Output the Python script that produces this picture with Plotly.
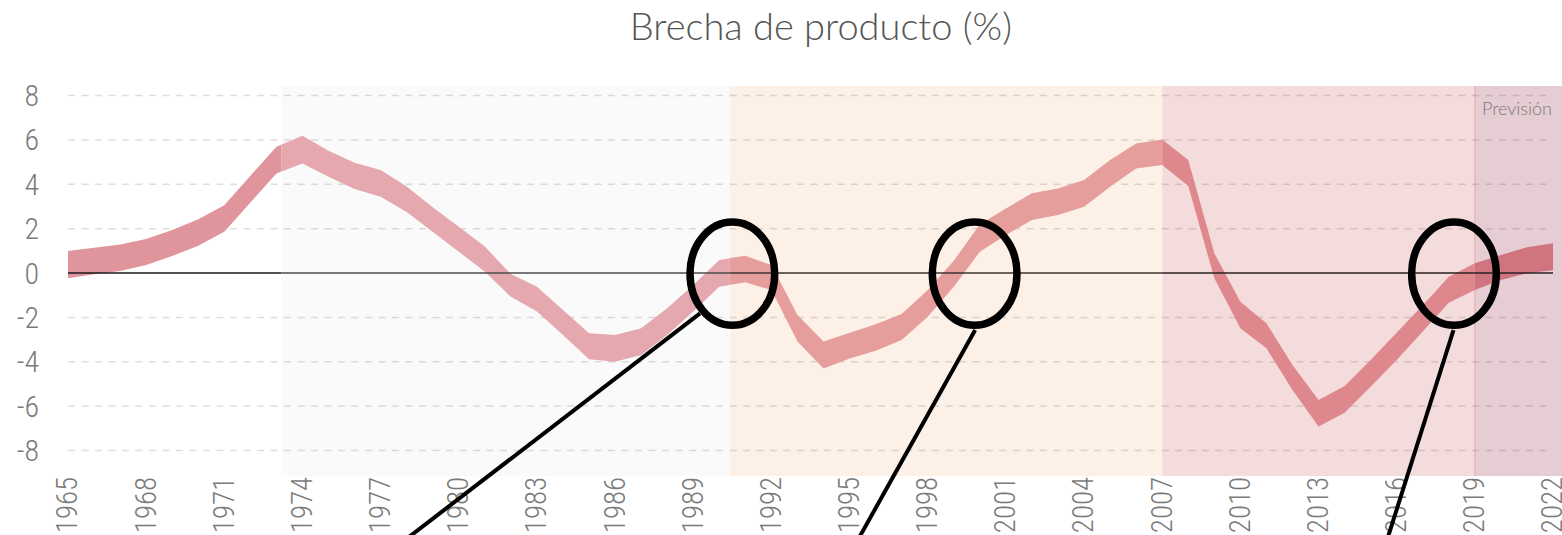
import plotly.graph_objects as go

# ---------------- data ----------------
years = list(range(1965, 2023))
upper = [0.99, 1.14, 1.29, 1.53, 1.94, 2.42, 3.06, 4.38, 5.69, 6.19,
         5.51, 4.97, 4.64, 3.90, 2.96, 2.09, 1.19, -0.05, -0.62, -1.67,
         -2.72, -2.79, -2.49, -1.59, -0.54, 0.59, 0.78, 0.36, -1.89, -3.09,
         -2.69, -2.31, -1.85, -0.77, 0.55, 2.20, 2.91, 3.59, 3.81, 4.19,
         5.09, 5.84, 6.02, 5.09, 0.89, -1.29, -2.27, -4.15, -5.72, -5.09,
         -3.92, -2.69, -1.45, -0.17, 0.44, 0.81, 1.16, 1.34]
lower = [-0.24, -0.06, 0.09, 0.36, 0.77, 1.23, 1.86, 3.19, 4.49, 4.94,
         4.34, 3.79, 3.44, 2.75, 1.86, 0.96, 0.06, -1.07, -1.74, -2.79,
         -3.89, -4.00, -3.70, -2.79, -1.74, -0.62, -0.42, -0.77, -3.09, -4.30,
         -3.85, -3.50, -3.02, -1.97, -0.62, 0.96, 1.71, 2.39, 2.61, 2.99,
         3.89, 4.71, 4.87, 3.92, -0.24, -2.49, -3.39, -5.27, -6.92, -6.30,
         -5.13, -3.92, -2.64, -1.34, -0.77, -0.32, -0.01, 0.12]

title_text = "Brecha de producto (%)"
forecast_label = "Previsión"
y_ticks = [-8, -6, -4, -2, 0, 2, 4, 6, 8]
y_tick_text = ["-8", "-6", "-4", "-2", "0", "2", "4", "6", "8"]
x_ticks = list(range(1965, 2023, 3))

period_bounds = [1965, 1973.2, 1990.4, 2007, 2019, 2022]
band_colors = ["#e0959d", "#e5a8ae", "#e59e9c", "#de878c", "#d07480"]
bg_colors = [None, "#fafafa", "#fdf0e7", "#f4dcdc", "#e5cdd3"]
zero_colors = ["#1a1a1a", "#4d4d4d", "#3d3530", "#2a2020", "#2a2024"]

circle_years = [1990.5, 1999.8, 2018.2]
leader_start = [(1989.26, -1.82), (1999.82, -2.57), (2018.18, -2.57)]
leader_end_years = [1977.2, 1995.0, 2015.45]
leader_end_value = -12.7

# ---------------- layout constants ----------------
X0, X1 = 1965, 2022
Y0, Y1 = -9.15, 8.43
W, H = 1562, 535
ML, MR, MT, MB = 68, 9, 86, 59


def px(yr):
    return (yr - X0) / (X1 - X0)


def py(v):
    return (v - Y0) / (Y1 - Y0)


font_cond = "Roboto Condensed, Liberation Sans Narrow, Arial Narrow, sans-serif"
x_tick_font = dict(family=font_cond, size=29, color="#7a7a7a", weight=300)
y_tick_font = dict(family=font_cond, size=30, color="#7a7a7a", weight=300)

fig = go.Figure()

# invisible trace on main axes so they render
fig.add_trace(go.Scatter(x=years, y=upper, mode="lines", line=dict(width=0),
                         opacity=0, hoverinfo="skip", showlegend=False))

layout_axes = {}
poly_x = years + years[::-1]
poly_y = upper + lower[::-1]
n = len(period_bounds) - 1
for k in range(n):
    a, b = period_bounds[k], period_bounds[k + 1]
    idx = k + 2
    fig.add_trace(go.Scatter(x=poly_x, y=poly_y, fill="toself", fillcolor=band_colors[k],
                             mode="lines", line=dict(width=0), hoverinfo="skip",
                             showlegend=False, xaxis=f"x{idx}", yaxis=f"y{idx}"))
    layout_axes[f"xaxis{idx}"] = dict(domain=[px(a), px(b)], range=[a, b], visible=False,
                                      anchor=f"y{idx}", fixedrange=True, automargin=False)
    layout_axes[f"yaxis{idx}"] = dict(domain=[0, 1], range=[Y0, Y1], visible=False,
                                      anchor=f"x{idx}", fixedrange=True, automargin=False)

shapes = []
# backgrounds
for k in range(n):
    if bg_colors[k] is None:
        continue
    a, b = period_bounds[k], period_bounds[k + 1]
    x1 = px(b) if k < n - 1 else 1.02
    shapes.append(dict(type="rect", xref="paper", yref="paper", x0=px(a), x1=x1, y0=0, y1=1,
                       fillcolor=bg_colors[k], line=dict(width=0), layer="below"))
# forecast boundary
shapes.append(dict(type="line", xref="paper", yref="paper", x0=px(period_bounds[-2]),
                   x1=px(period_bounds[-2]), y0=0, y1=1,
                   line=dict(color="#e6a9b0", width=1), layer="below"))
# gridlines
for v in y_ticks:
    if v == 0:
        continue
    shapes.append(dict(type="line", xref="paper", yref="y", x0=0, x1=1, y0=v, y1=v,
                       line=dict(color="rgba(0,0,0,0.13)", width=1.5, dash="7px,6.5px"),
                       layer="below"))
# zero line per period
for k in range(n):
    a, b = period_bounds[k], period_bounds[k + 1]
    shapes.append(dict(type="line", xref="paper", yref="y", x0=px(a), x1=px(b), y0=0, y1=0,
                       line=dict(color=zero_colors[k], width=1.6), layer="above"))
# ellipses
ew, eh = 3.25, 4.65
for c in circle_years:
    shapes.append(dict(type="circle", xref="x", yref="y", x0=c - ew / 2, x1=c + ew / 2,
                       y0=-eh / 2 - 0.03, y1=eh / 2 - 0.03,
                       line=dict(color="black", width=7.5), layer="above"))
# leader lines
for (sy, sv), ey in zip(leader_start, leader_end_years):
    shapes.append(dict(type="line", xref="paper", yref="paper", x0=px(sy), y0=py(sv),
                       x1=px(ey), y1=py(leader_end_value),
                       line=dict(color="black", width=4), layer="above"))

fig.update_layout(
    width=W, height=H,
    margin=dict(l=ML, r=MR, t=MT, b=MB, pad=0, autoexpand=False),
    paper_bgcolor="white", plot_bgcolor="rgba(0,0,0,0)",
    showlegend=False,
    title=dict(text=title_text, x=0.507, xanchor="center", xref="paper",
               y=1 - 27 / H, yref="container", yanchor="middle",
               font=dict(family="Lato, sans-serif", size=38, color="#555555", weight=300)),
    xaxis=dict(range=[X0, X1], tickvals=x_ticks, tickangle=-90, showgrid=False,
               zeroline=False, showline=False, ticks="", tickfont=x_tick_font,
               ticklabelstandoff=-6, ticklabeloverflow="allow",
               fixedrange=True, automargin=False),
    yaxis=dict(range=[Y0, Y1], tickvals=y_ticks, ticktext=y_tick_text, showgrid=False,
               zeroline=False, showline=False, ticks="", tickfont=y_tick_font,
               ticklabelstandoff=28, fixedrange=True, automargin=False),
    shapes=shapes,
    annotations=[dict(text=forecast_label, xref="x", yref="paper", x=period_bounds[-2],
                      xshift=5, y=py(7.46), xanchor="left", yanchor="middle",
                      showarrow=False,
                      font=dict(family="Lato, sans-serif", size=18, color="#7a7a7a", weight=300))],
    **layout_axes,
)

# remove the default page margin so the figure fills the window exactly
fig.write_html("out.html",
               config={"displayModeBar": False, "staticPlot": True},
               post_script="document.body.style.margin='0';document.body.style.overflow='hidden';")
